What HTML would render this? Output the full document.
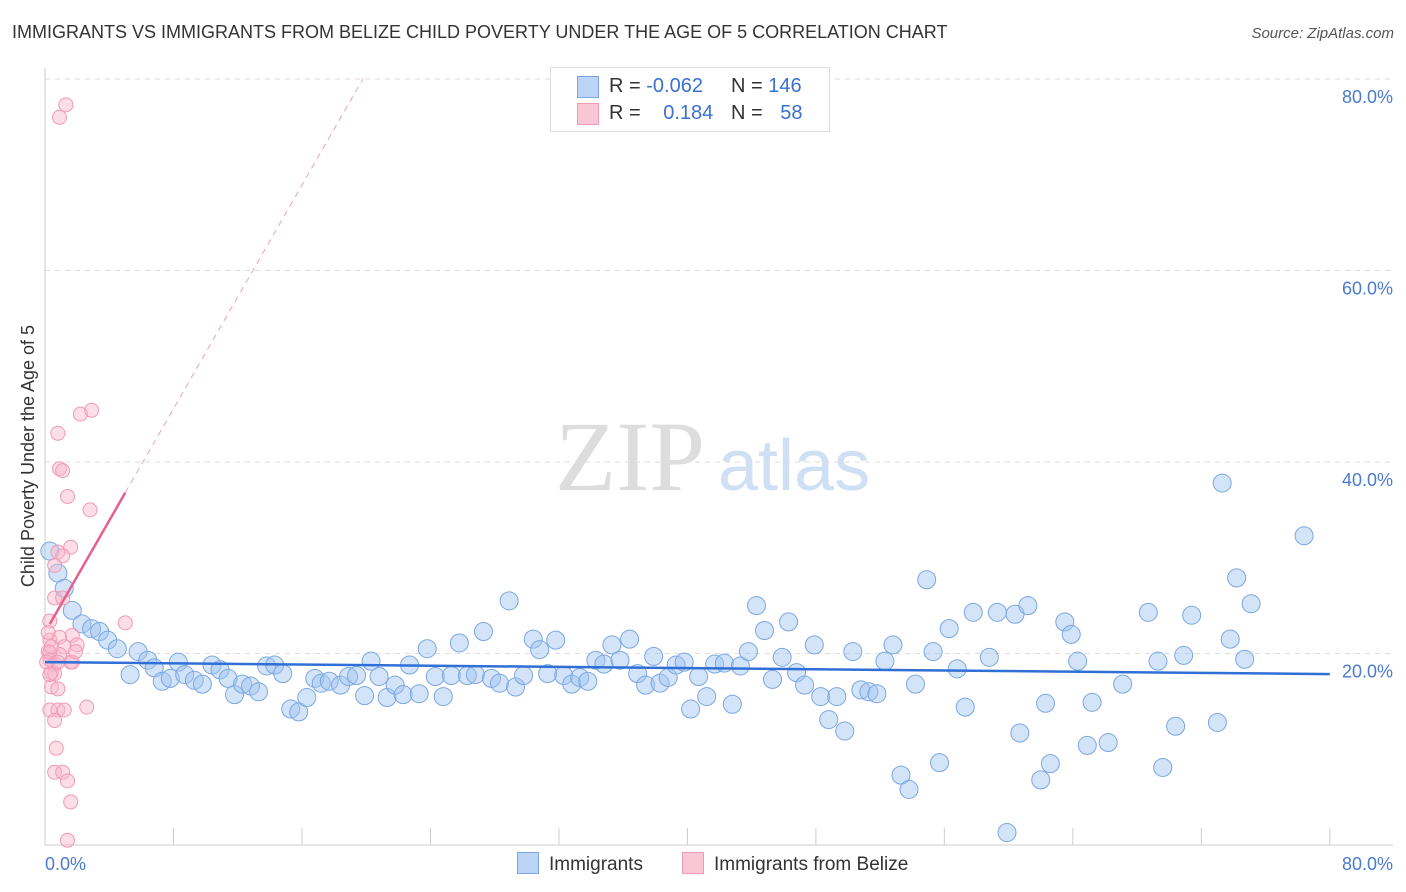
<!DOCTYPE html>
<html><head><meta charset="utf-8"><style>
body{margin:0;background:#fff;font-family:"Liberation Sans",sans-serif;}
#wrap{position:relative;width:1406px;height:892px;overflow:hidden}
.t{position:absolute;white-space:nowrap}
</style></head><body>
<div id="wrap">
<div class="t" style="left:12px;top:22px;font-size:18px;color:#333">IMMIGRANTS VS IMMIGRANTS FROM BELIZE CHILD POVERTY UNDER THE AGE OF 5 CORRELATION CHART</div>
<div class="t" style="right:12px;top:25px;font-size:15px;color:#555;font-style:italic">Source: ZipAtlas.com</div>
<svg id="s" width="1406" height="892" style="position:absolute;left:0;top:0"></svg>
</div>
<script>
const blueX=[0.3,0.8,1.2,1.7,2.3,2.9,3.4,3.9,4.5,5.3,5.8,6.4,6.8,7.3,7.8,8.3,8.7,9.3,9.8,10.4,10.9,11.4,11.8,12.3,12.8,13.3,13.8,14.3,14.8,15.3,15.8,16.3,16.8,17.2,17.7,18.4,18.9,19.4,19.9,20.3,20.8,21.3,21.8,22.3,22.7,23.3,23.8,24.3,24.8,25.3,25.8,26.3,26.8,27.3,27.8,28.3,28.9,29.3,29.8,30.4,30.8,31.3,31.8,32.3,32.8,33.3,33.8,34.3,34.8,35.3,35.8,36.4,36.9,37.4,37.9,38.3,38.8,39.3,39.8,40.2,40.7,41.2,41.7,42.3,42.8,43.3,43.8,44.3,44.8,45.3,45.9,46.3,46.8,47.3,47.9,48.3,48.8,49.3,49.8,50.3,50.8,51.3,51.8,52.3,52.8,53.3,53.8,54.2,54.9,55.3,55.7,56.3,56.8,57.3,57.8,58.8,59.3,59.9,60.4,60.7,61.2,62.0,62.6,62.3,63.5,63.9,64.3,64.9,65.2,66.2,67.1,68.7,69.3,69.6,70.4,70.9,71.4,73.0,73.3,73.8,74.2,74.7,75.1,78.4];
const blueY=[30.7,28.4,26.8,24.5,23.1,22.6,22.3,21.4,20.5,17.8,20.2,19.3,18.5,17.1,17.4,19.1,17.8,17.2,16.8,18.8,18.3,17.4,15.7,16.8,16.6,16.0,18.7,18.8,17.9,14.2,13.9,15.4,17.4,16.9,17.1,16.7,17.6,17.7,15.6,19.2,17.6,15.4,16.7,15.7,18.8,15.8,20.5,17.6,15.5,17.7,21.1,17.7,17.8,22.3,17.4,16.9,25.5,16.5,17.7,21.5,20.4,17.9,21.4,17.7,16.8,17.5,17.1,19.3,18.9,20.9,19.3,21.5,17.9,16.7,19.7,16.9,17.5,18.8,19.1,14.2,17.6,15.5,18.9,19.0,14.7,18.7,20.2,25.0,22.4,17.3,19.6,23.3,18.0,16.7,20.9,15.5,13.1,15.5,11.9,20.2,16.2,16.0,15.8,19.2,20.9,7.3,5.8,16.8,27.7,20.2,8.6,22.6,18.4,14.4,24.3,19.6,24.3,1.3,24.1,11.7,25.0,6.8,8.5,14.8,23.3,22.0,19.2,10.4,14.9,10.7,16.8,24.3,19.2,8.1,12.4,19.8,24.0,12.8,37.8,21.5,27.9,19.4,25.2,32.3];
const pinkX=[1.3,0.9,2.9,2.2,0.8,0.9,1.1,1.4,2.8,1.6,0.8,1.1,0.6,0.6,1.1,5.0,0.3,0.3,0.9,1.7,1.2,2.0,0.3,0.6,0.9,1.6,0.2,0.4,0.6,0.4,0.8,0.3,0.8,1.2,2.6,0.6,0.7,0.6,1.1,1.4,1.6,1.4,0.3,0.2,0.4,0.1,1.7,1.9,0.8,0.3];
const pinkY=[77.3,76.0,45.4,45.0,43.0,39.3,39.1,36.4,35.0,31.1,30.6,30.2,29.2,25.8,25.8,23.2,23.4,21.4,21.7,21.9,20.7,20.9,19.4,18.9,19.9,19.1,20.2,18.0,17.9,16.5,16.3,14.1,14.1,14.1,14.4,13.0,10.1,7.6,7.6,6.7,4.5,0.5,20.1,22.2,20.7,19.1,19.1,20.2,19.1,17.8];
const yTicks=[20,40,60,80];
const blueLine=[19.1,17.85];
const pinkLine=[22.2,2.92];
const ns='http://www.w3.org/2000/svg';
const s=document.getElementById('s');
const X=v=>45+v*16.06, Y=v=>845-v*9.575;
function mk(t,a,p){const e=document.createElementNS(ns,t);for(const k in a)e.setAttribute(k,a[k]);(p||s).appendChild(e);return e;}
// watermark
const w1=mk('text',{x:555,y:490,'font-size':100,fill:'#ddd','font-family':'Liberation Serif'});w1.textContent='ZIP';


const w2=mk('text',{x:718,y:490,'font-size':72,fill:'#cfe0f5','font-family':'Liberation Sans'});w2.textContent='atlas';


yTicks.forEach(v=>{
 const g=mk('line',{x1:45,x2:1393,y1:Y(v),y2:Y(v),stroke:'#ddd','stroke-dasharray':'5,5'});
 
 
 const t=mk('text',{x:1393,y:Y(v)+24,'text-anchor':'end','font-size':18,fill:'#4a7bd0'});t.textContent=v.toFixed(1)+'%';
 
 
});
mk('line',{x1:45,x2:45,y1:68,y2:845,stroke:'#ccc'});
mk('line',{x1:45,x2:1393,y1:845,y2:845,stroke:'#ccc'});
for(let i=1;i<=10;i++){const tk=mk('line',{x1:X(i*8),x2:X(i*8),y1:828,y2:845,stroke:'#ccc'});
 
 }
const xl=mk('text',{x:45,y:870,'font-size':18,fill:'#4a7bd0'});xl.textContent='0.0%';


const xr=mk('text',{x:1393,y:870,'text-anchor':'end','font-size':18,fill:'#4a7bd0'});xr.textContent='80.0%';


const yt=mk('text',{x:0,y:0,'font-size':18,fill:'#333','text-anchor':'middle',transform:'translate(34,456) rotate(-90)'});yt.textContent='Child Poverty Under the Age of 5';


blueX.forEach((x,i)=>{const c=mk('circle',{cx:X(x),cy:Y(blueY[i]),r:9,fill:'rgba(160,196,240,0.45)',stroke:'#7aa7e2','stroke-width':1});
 
 });
pinkX.forEach((x,i)=>{const c=mk('circle',{cx:X(x),cy:Y(pinkY[i]),r:7,fill:'rgba(248,182,202,0.45)',stroke:'#f09ab5','stroke-width':1});
 
 });
const bl=mk('line',{x1:X(0),y1:Y(blueLine[0]),x2:X(80),y2:Y(blueLine[1]),stroke:'#2f6fd6','stroke-width':2.5});


const xe=(80-pinkLine[0])/pinkLine[1];
const pd=mk('line',{x1:X(5),y1:Y(pinkLine[0]+5*pinkLine[1]),x2:X(xe),y2:Y(80),stroke:'#f0a0b8','stroke-width':1,'stroke-dasharray':'6,5'});


const ps=mk('line',{x1:X(0.3),y1:Y(pinkLine[0]+0.3*pinkLine[1]),x2:X(5),y2:Y(pinkLine[0]+5*pinkLine[1]),stroke:'#e8608a','stroke-width':2.5});


</script>
<div style="position:absolute;left:550px;top:67px;width:278px;height:63px;border:1px solid #ddd;background:#fff;font-size:20px">
 <div style="position:absolute;left:26px;top:8px;width:20px;height:20px;background:#bcd4f6;border:1px solid #7aa7e2"></div>
 <div class="t" style="left:58px;top:7px;color:#333">R = <span style="color:#3a70d0">-0.062</span></div>
 <div class="t" style="left:180px;top:7px;color:#333">N = <span style="color:#3a70d0">146</span></div>
 <div style="position:absolute;left:26px;top:35px;width:20px;height:20px;background:#f9c6d5;border:1px solid #f09ab5"></div>
 <div class="t" style="left:58px;top:34px;color:#333">R = <span style="color:#3a70d0;margin-left:17px">0.184</span></div>
 <div class="t" style="left:180px;top:34px;color:#333">N = <span style="color:#3a70d0;margin-left:12px">58</span></div>
</div>
<div style="position:absolute;left:517px;top:852px;font-size:19px;color:#333">
 <div style="position:absolute;left:0;top:0;white-space:nowrap"><span style="display:inline-block;width:20px;height:20px;background:#bcd4f6;border:1px solid #7aa7e2;vertical-align:-4px;margin-right:10px"></span>Immigrants</div>
 <div style="position:absolute;left:165px;top:0;white-space:nowrap"><span style="display:inline-block;width:20px;height:20px;background:#f9c6d5;border:1px solid #f09ab5;vertical-align:-4px;margin-right:10px"></span>Immigrants from Belize</div>
</div>
</body></html>
